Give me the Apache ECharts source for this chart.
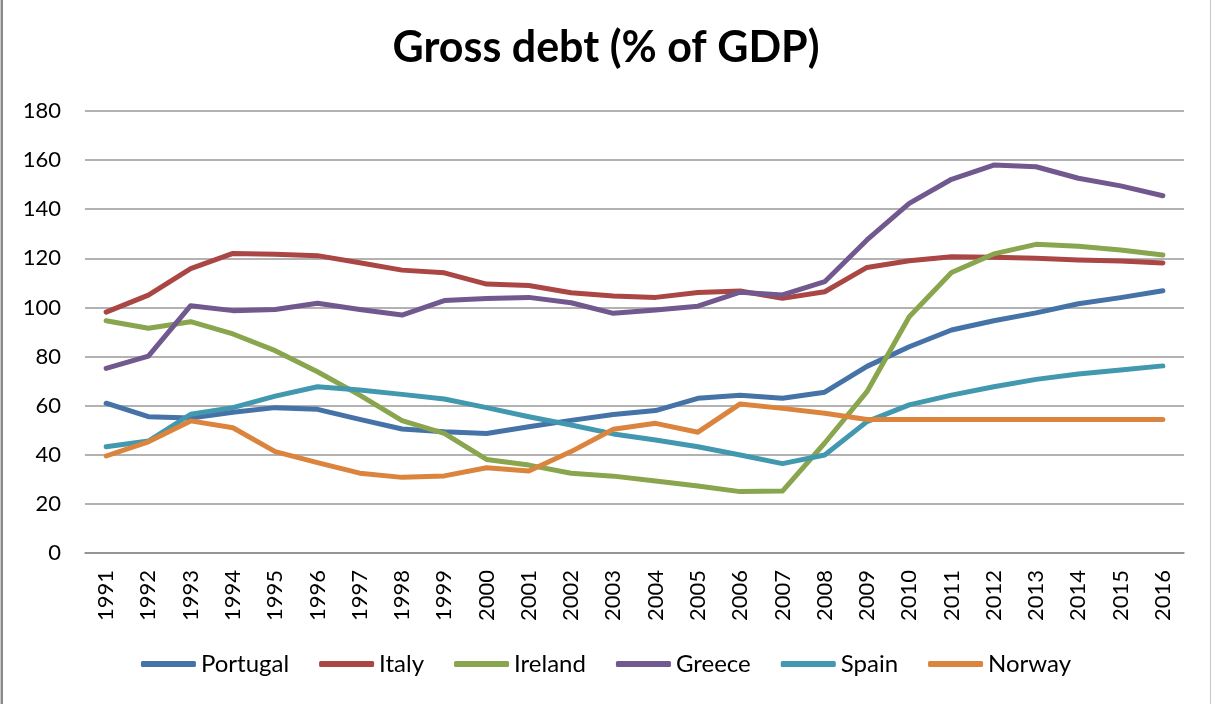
<!DOCTYPE html>
<html>
<head>
<meta charset="utf-8">
<title>Gross debt (% of GDP)</title>
<script src="https://cdn.jsdelivr.net/npm/echarts@6/dist/echarts.min.js"></script>
<style>
  html, body { margin: 0; padding: 0; background: #fff; }
  #chart { width: 1212px; height: 704px; }
</style>
</head>
<body>
<div id="chart"></div>
<script>
// Years on the category axis
const years = ['1991','1992','1993','1994','1995','1996','1997','1998','1999','2000','2001','2002','2003',
               '2004','2005','2006','2007','2008','2009','2010','2011','2012','2013','2014','2015','2016'];

// Gross government debt, % of GDP
const portugal = [61.0, 55.5, 55.0, 57.3, 59.2, 58.5, 54.4, 50.5, 49.4, 48.7, 51.4, 54.0, 56.4, 58.0, 63.0, 64.2, 63.0, 65.5, 76.0, 84.0, 90.8, 94.6, 97.8, 101.5, 104.0, 106.8];
const italy    = [98.1, 105.0, 115.8, 122.0, 121.7, 121.1, 118.2, 115.2, 114.1, 109.5, 108.9, 106.0, 104.7, 104.1, 106.1, 106.7, 103.7, 106.4, 116.3, 119.0, 120.6, 120.4, 120.0, 119.3, 118.9, 118.1];
const ireland  = [94.6, 91.5, 94.2, 89.2, 82.4, 73.8, 64.3, 53.9, 48.7, 38.1, 35.8, 32.5, 31.3, 29.3, 27.3, 25.0, 25.2, 44.8, 65.7, 96.2, 114.2, 121.8, 125.7, 124.9, 123.4, 121.4];
const greece   = [75.2, 80.2, 100.7, 98.7, 99.2, 101.7, 99.2, 96.9, 102.8, 103.6, 104.1, 101.9, 97.6, 99.0, 100.5, 106.2, 105.1, 110.5, 127.5, 142.4, 152.2, 158.0, 157.3, 152.6, 149.5, 145.5];
const spain    = [43.3, 45.6, 56.5, 59.2, 63.9, 67.7, 66.4, 64.6, 62.7, 59.2, 55.5, 52.1, 48.5, 46.0, 43.3, 39.9, 36.4, 39.9, 53.5, 60.3, 64.3, 67.7, 70.7, 72.9, 74.5, 76.2];
const norway   = [39.5, 45.3, 53.8, 51.0, 41.3, 36.8, 32.5, 30.8, 31.4, 34.7, 33.4, 41.3, 50.4, 52.8, 49.2, 60.7, 58.9, 56.9, 54.4, 54.4, 54.4, 54.4, 54.4, 54.4, 54.4, 54.4];

// Value axis ticks
const yTicks = [0, 20, 40, 60, 80, 100, 120, 140, 160, 180];

const seriesDefs = [
  { name: 'Portugal', data: portugal, color: '#4572A7' },
  { name: 'Italy',    data: italy,    color: '#AA4643' },
  { name: 'Ireland',  data: ireland,  color: '#89A54E' },
  { name: 'Greece',   data: greece,   color: '#71588F' },
  { name: 'Spain',    data: spain,    color: '#4198AF' },
  { name: 'Norway',   data: norway,   color: '#DB843D' }
];

const FONT = 'Lato, "Open Sans", sans-serif';

const chart = echarts.init(document.getElementById('chart'), null, { renderer: 'canvas' });

chart.setOption({
  animation: false,
  backgroundColor: '#ffffff',
  color: seriesDefs.map(s => s.color),
  title: {
    text: 'Gross debt (% of GDP)',
    left: 'center',
    top: 22,
    textStyle: { fontFamily: FONT, fontWeight: 'bold', fontSize: 43, color: '#000' }
  },
  legend: {
    top: 647,
    left: 'center',
    itemWidth: 55,
    itemHeight: 6,
    itemGap: 30,
    icon: 'roundRect',
    textStyle: { fontFamily: FONT, fontSize: 24, color: '#000' },
    data: seriesDefs.map(s => ({ name: s.name, itemStyle: { color: s.color } }))
  },
  grid: { left: 85, right: 28, top: 111, bottom: 151, containLabel: false },
  xAxis: {
    type: 'category',
    data: years,
    boundaryGap: true,
    axisLine: { show: true, lineStyle: { color: '#8c8c8c', width: 1.5 } },
    axisTick: { show: false },
    axisLabel: { rotate: 90, fontFamily: FONT, fontSize: 22, color: '#000', margin: 17, interval: 0 }
  },
  yAxis: {
    type: 'value',
    min: yTicks[0],
    max: yTicks[yTicks.length - 1],
    interval: yTicks[1] - yTicks[0],
    axisLine: { show: false },
    axisTick: { show: false },
    axisLabel: { fontFamily: FONT, fontSize: 22, color: '#000', margin: 24 },
    splitLine: { show: true, lineStyle: { color: '#999999', width: 1.5 } }
  },
  series: seriesDefs.map(s => ({
    name: s.name,
    type: 'line',
    data: s.data,
    showSymbol: false,
    symbol: 'none',
    lineStyle: { width: 5, color: s.color, cap: 'round', join: 'round' },
    itemStyle: { color: s.color }
  })),
  graphic: [
    { type: 'rect', shape: { x: 0.5, y: -2, width: 1210, height: 708 },
      style: { fill: 'none', stroke: '#c8c8c8', lineWidth: 1 }, silent: true },
    { type: 'line', shape: { x1: 2, y1: 0, x2: 2, y2: 704 },
      style: { stroke: '#8a8a8a', lineWidth: 2 }, silent: true }
  ]
});
</script>
</body>
</html>
